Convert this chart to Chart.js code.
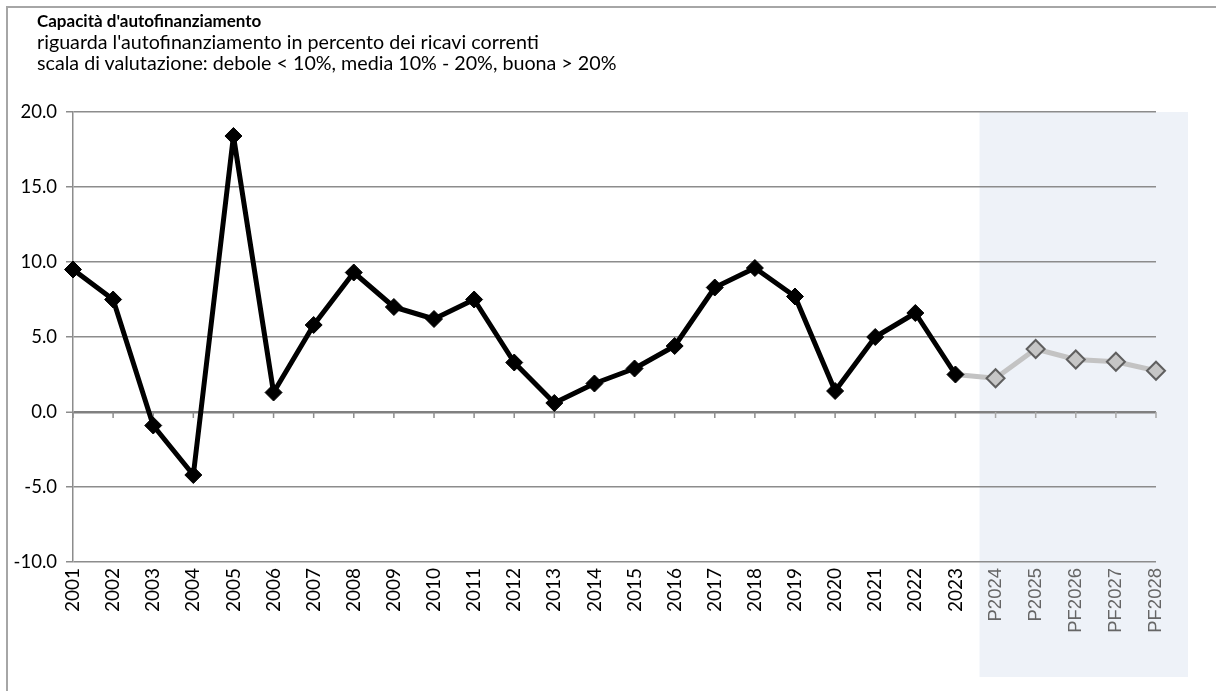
<!DOCTYPE html>
<html>
<head>
<meta charset="utf-8">
<script src="https://cdn.jsdelivr.net/npm/chart.js@4.4.1/dist/chart.umd.min.js"></script>
<style>
body{margin:0;background:#fff;}
#wrap{position:relative;width:1216px;height:691px;overflow:hidden;}
#frame{position:absolute;left:6px;top:6px;width:1300px;height:800px;border:2px solid #a6a6a6;}
#titles{position:absolute;left:37px;top:9px;font-family:Lato,sans-serif;font-size:19.7px;line-height:21px;color:#000;z-index:2;white-space:nowrap}
#titles b{font-weight:bold;font-size:17px}
#box{position:absolute;left:0;top:0;width:1216px;height:691px}
</style>
</head>
<body>
<div id="wrap">
  <div id="frame"></div>
  <div id="titles">
    <b>Capacità d'autofinanziamento</b><br>
    riguarda l'autofinanziamento in percento dei ricavi correnti<br>
    scala di valutazione: debole &lt; 10%, media 10% - 20%, buona &gt; 20%
  </div>
  <div id="box"><canvas id="myChart"></canvas></div>
</div>
<script>
const anni = ["2001","2002","2003","2004","2005","2006","2007","2008","2009","2010","2011","2012",
  "2013","2014","2015","2016","2017","2018","2019","2020","2021","2022","2023",
  "P2024","P2025","PF2026","PF2027","PF2028"];

const consuntivo = [9.5, 7.5, -0.9, -4.2, 18.4, 1.3, 5.8, 9.3, 7.0, 6.2, 7.5, 3.3,
  0.6, 1.9, 2.9, 4.4, 8.3, 9.6, 7.7, 1.4, 5.0, 6.6, 2.5,
  null, null, null, null, null];

const previsione = [null, null, null, null, null, null, null, null, null, null, null, null,
  null, null, null, null, null, null, null, null, null, null, 2.5,
  2.25, 4.2, 3.5, 3.35, 2.75];

const yMin = -10;
const yMax = 20;
const yStep = 5;

const primoPrevisto = anni.indexOf("P2024");
const griglia = "#8c8c8c";

// sfondo grigio-azzurro dietro agli anni di previsione
const zonaPrevisione = {
  id: "zonaPrevisione",
  beforeDraw(chart) {
    const x = chart.scales.x;
    const area = chart.chartArea;
    const a = x.getPixelForValue(primoPrevisto - 1);
    const b = x.getPixelForValue(primoPrevisto);
    const left = a + (b - a) * 0.6;
    const right = x.getPixelForValue(anni.length - 1) + 32;
    const c = chart.ctx;
    c.save();
    c.fillStyle = "#eef2f8";
    c.fillRect(left, area.top, right - left, area.bottom - area.top + 115);
    c.restore();
  }
};

// tacche dell'asse x sulla linea dello zero
const tacche = {
  id: "tacche",
  beforeDatasetsDraw(chart) {
    const x = chart.scales.x;
    const y0 = chart.scales.y.getPixelForValue(0);
    const c = chart.ctx;
    c.save();
    c.lineWidth = 1.5;
    anni.forEach((a, i) => {
      const px = x.getPixelForValue(i);
      c.strokeStyle = i >= primoPrevisto ? "#a8a8a8" : griglia;
      c.beginPath();
      c.moveTo(px, y0);
      c.lineTo(px, y0 + 6);
      c.stroke();
    });
    c.restore();
  }
};

const ctx = document.getElementById("myChart").getContext("2d");

const myChart = new Chart(ctx, {
  type: "line",
  data: {
    labels: anni,
    datasets: [
      {
        label: "consuntivo",
        data: consuntivo,
        borderColor: "#000",
        backgroundColor: "#000",
        borderWidth: 5,
        borderJoinStyle: "round",
        pointStyle: "rectRot",
        pointRadius: 8.5,
        pointBorderWidth: 1,
        pointBorderColor: "#000",
        pointBackgroundColor: "#000",
        tension: 0,
        spanGaps: false
      },
      {
        label: "previsione",
        data: previsione,
        borderColor: "#c3c3c3",
        backgroundColor: "#c3c3c3",
        borderWidth: 5,
        borderJoinStyle: "round",
        pointStyle: "rectRot",
        pointRadius: (c) => c.dataIndex < primoPrevisto ? 0 : 9,
        pointBorderWidth: 2,
        pointBorderColor: "#5f5f5f",
        pointBackgroundColor: "#c6c6c6",
        tension: 0
      }
    ]
  },
  options: {
    responsive: true,
    maintainAspectRatio: false,
    animation: false,
    layout: { padding: { top: 112, right: 60, bottom: 0, left: 0 } },
    plugins: {
      legend: { display: false },
      tooltip: { enabled: false },
      title: { display: false }
    },
    scales: {
      x: {
        offset: false,
        grid: { display: false, drawTicks: false },
        border: { display: false },
        ticks: {
          autoSkip: false,
          minRotation: 90,
          maxRotation: 90,
          padding: 6,
          color: (c) => c.index >= primoPrevisto ? "#666666" : "#000000",
          font: (c) => c.index >= primoPrevisto
            ? { family: "'Liberation Sans', Arial, sans-serif", size: 18.5 }
            : { family: "Lato, sans-serif", size: 19 }
        },
        afterFit: (s) => { s.height = 129; }
      },
      y: {
        min: yMin,
        max: yMax,
        grid: {
          color: (c) => c.tick && c.tick.value === 0 ? "#808080" : griglia,
          lineWidth: (c) => c.tick && c.tick.value === 0 ? 2.5 : 1.5,
          tickLength: 7,
          tickColor: griglia,
          tickWidth: 1.5
        },
        border: { color: griglia, width: 1.5 },
        ticks: {
          stepSize: yStep,
          padding: 9,
          color: "#000",
          font: { family: "Lato, sans-serif", size: 18.5 },
          callback: (v) => Number(v).toFixed(1)
        },
        afterFit: (s) => { s.width = 73; }
      }
    }
  },
  plugins: [zonaPrevisione, tacche]
});
</script>
</body>
</html>
